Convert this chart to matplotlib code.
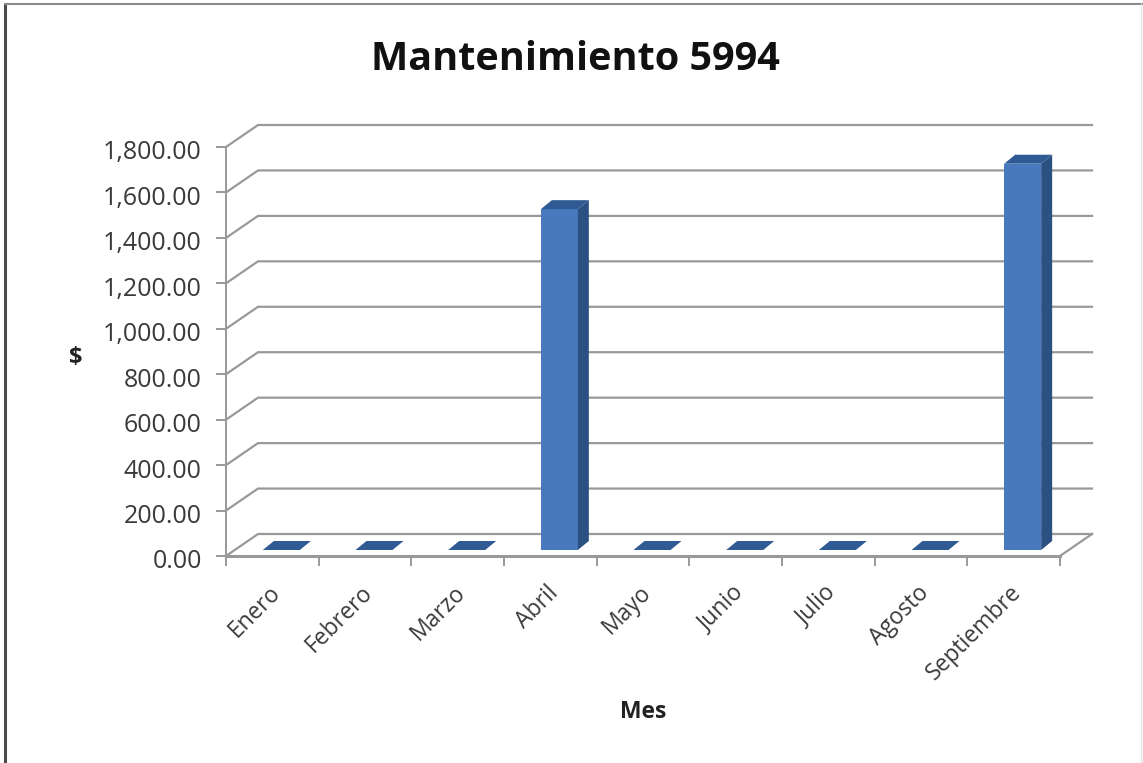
import matplotlib
matplotlib.use('Agg')
import matplotlib.pyplot as plt
from matplotlib.patches import Polygon, Rectangle
from matplotlib.transforms import ScaledTranslation

meses = ['Enero', 'Febrero', 'Marzo', 'Abril', 'Mayo', 'Junio', 'Julio', 'Agosto', 'Septiembre']
valores = [0, 0, 0, 1500, 0, 0, 0, 0, 1700]
ticks_y = [0, 200, 400, 600, 800, 1000, 1200, 1400, 1600, 1800]

W, H = 1143, 763
GRIS = '#999999'
TEXTO = '#3a3a3a'

fig = plt.figure(figsize=(W / 100, H / 100), dpi=100)
plt.rcParams['font.family'] = ['Open Sans', 'DejaVu Sans']

# marco de la imagen
fig.add_artist(plt.Line2D([5 / W, 5 / W], [0, 1 - 4 / H], color='#4a4a4a', lw=2.2))
fig.add_artist(plt.Line2D([5 / W, 1], [1 - 4 / H, 1 - 4 / H], color='#8a8a8a', lw=1.5))
fig.add_artist(plt.Line2D([1141 / W, 1141 / W], [0, 1 - 4 / H], color='#e4e4e4', lw=1))

# ejes en la cara frontal del grafico 3D
left, right, bottom, top = 226, 1060, 556, 147
ax = fig.add_axes([left / W, 1 - bottom / H, (right - left) / W, (bottom - top) / H])
ax.set_xlim(0, len(meses))
ax.set_ylim(0, 1800)
ax.patch.set_visible(False)
for s in ['top', 'right']:
    ax.spines[s].set_visible(False)
for s in ['left', 'bottom']:
    ax.spines[s].set_color(GRIS)
ax.spines['left'].set_linewidth(1.4)
ax.spines['bottom'].set_linewidth(2.2)

# pixeles a unidades de datos
px = len(meses) / (right - left)
py = 1800 / (bottom - top)
dx, dy = 32 * px, 22 * py

for v in ticks_y:
    ax.plot([0, dx, len(meses) + dx], [v, v + dy, v + dy], color=GRIS, lw=1.6,
            clip_on=False, zorder=1, solid_joinstyle='miter')
ax.plot([len(meses), len(meses) + dx], [0, dy], color=GRIS, lw=1.6, clip_on=False, zorder=1)

# barras con profundidad
ancho = 37 * px
sx, sy = 11 * px, 9 * py
base = 6 * py
for i, v in enumerate(valores):
    x0 = i + 0.5 + 9 * px - ancho / 2
    x1 = x0 + ancho
    y0 = base
    y1 = base + v
    if v > 0:
        ax.add_patch(Rectangle((x0, y0), ancho, v, fc='#4779bc', ec='none',
                               clip_on=False, zorder=3))
        ax.add_patch(Polygon([(x1, y0), (x1 + sx, y0 + sy), (x1 + sx, y1 + sy), (x1, y1)],
                             fc='#2c5082', ec='none', clip_on=False, zorder=3))
    ax.add_patch(Polygon([(x0, y1), (x1, y1), (x1 + sx, y1 + sy), (x0 + sx, y1 + sy)],
                         fc='#2f5a94', ec='none', clip_on=False, zorder=3))

ax.set_xticks(range(len(meses) + 1))
ax.set_xticklabels([])
ax.set_yticks(ticks_y)
ax.set_yticklabels(['{:,.2f}'.format(v) for v in ticks_y])
ax.tick_params(axis='both', color=GRIS, width=1.4, length=7)
ax.tick_params(axis='y', labelsize=18, labelcolor=TEXTO, pad=10.5)
baja = ScaledTranslation(0, -3 / 100, fig.dpi_scale_trans)
for lab in ax.get_yticklabels():
    lab.set_transform(lab.get_transform() + baja)

for i, m in enumerate(meses):
    ax.annotate(m, (i + 0.5, 0), xytext=(-3, -18), textcoords='offset points',
                rotation=45, rotation_mode='anchor', ha='right', va='top',
                fontsize=16.5, color=TEXTO)

fig.text(575 / W, 1 - 60 / H, 'Mantenimiento 5994', ha='center', va='center',
         fontsize=28.5, fontweight='bold', color='#111111')
fig.text(76 / W, 1 - 358 / H, '$', ha='center', va='center', fontsize=17,
         fontweight='bold', color='#222222')
fig.text(643 / W, 1 - 712 / H, 'Mes', ha='center', va='center', fontsize=16.5,
         fontweight='bold', color='#222222')

fig.savefig('out.png', dpi=100)
